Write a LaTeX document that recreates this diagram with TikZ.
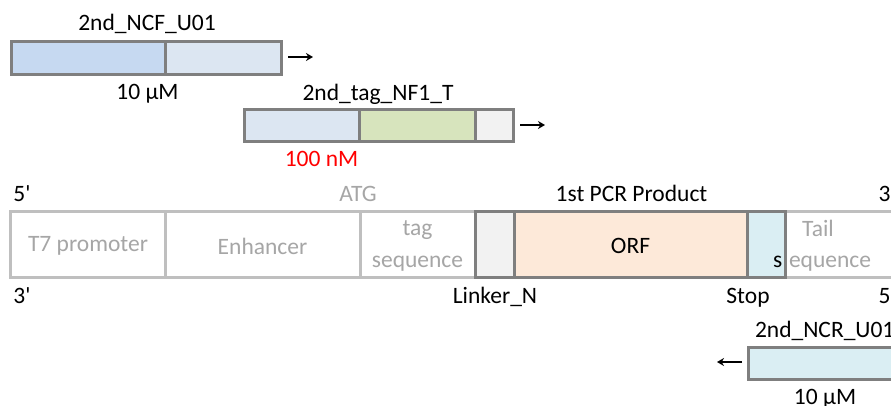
\documentclass[tikz,border=0pt]{standalone}
\usepackage{fontspec}
\setmainfont{Carlito}
\usetikzlibrary{arrows.meta}
\definecolor{dk}{HTML}{7F7F7F}
\definecolor{lt}{HTML}{BFBFBF}
\definecolor{gtext}{HTML}{A6A6A6}
\definecolor{blueA}{HTML}{C6D9F1}
\definecolor{blueB}{HTML}{DCE6F2}
\definecolor{greenA}{HTML}{D7E4BD}
\definecolor{greyA}{HTML}{F2F2F2}
\definecolor{orfc}{HTML}{FDE9D9}
\definecolor{cyanA}{HTML}{DAEEF3}
\newcommand{\prm}{\textquotesingle}
\begin{document}
\begin{tikzpicture}[x=1pt,y=-1pt,
  every node/.style={font=\fontsize{23.5}{31.5}\selectfont},
  seg/.style={draw=dk, line width=3pt, inner sep=0pt, outer sep=0pt, anchor=north west},
  lseg/.style={draw=lt, fill=white, line width=3pt, inner sep=0pt, outer sep=0pt, anchor=north west},
  lbl/.style={anchor=base, inner sep=0pt, outer sep=0pt},
  inlbl/.style={anchor=center, inner sep=0pt, outer sep=0pt, text=gtext, align=center},
  dirarrow/.style={-{Stealth[length=7pt,width=8pt]}, line width=1.8pt}]
\useasboundingbox (0,0) rectangle (891,405);
\clip (0,0) rectangle (891,405);
% primer 1
\node[seg, fill=blueA, minimum width=154pt, minimum height=33pt] (p1a) at (11.5,41.5) {};
\node[seg, fill=blueB, minimum width=116pt, minimum height=33pt] (p1b) at (165.5,41.5) {};
\node[lbl] (p1name) at (147,30) {2nd\_NCF\_U01};
\node[lbl] (p1conc) at (147.5,99) {10 µM};
\coordinate (a1s) at (288,57);
\coordinate (a1e) at (313,57);
\draw[dirarrow] (a1s) -- (a1e);
% primer 2
\node[seg, fill=blueB, minimum width=114.5pt, minimum height=32pt] (p2a) at (244.5,109.5) {};
\node[seg, fill=greenA, minimum width=116.5pt, minimum height=32pt] (p2b) at (359,109.5) {};
\node[seg, fill=greyA, minimum width=38pt, minimum height=32pt] (p2c) at (475.5,109.5) {};
\node[lbl] (p2name) at (378,100) {2nd\_tag\_NF1\_T};
\node[lbl, text=red] (p2conc) at (321.5,166) {100 nM};
\coordinate (a2s) at (520,125);
\coordinate (a2e) at (545,125);
\draw[dirarrow] (a2s) -- (a2e);
% main template
\node[lseg, minimum width=154.5pt, minimum height=66pt] (t7) at (10.5,211.5) {};
\node[lseg, minimum width=195pt, minimum height=66pt] (enh) at (165,211.5) {};
\node[lseg, minimum width=115pt, minimum height=66pt] (tag) at (360,211.5) {};
\node[lseg, minimum width=130pt, minimum height=66pt] (tail) at (785.5,211.5) {};
\node[seg, fill=greyA, minimum width=39pt, minimum height=66pt] (lnk) at (475,211.5) {};
\node[seg, fill=orfc, minimum width=233pt, minimum height=66pt] (orf) at (514,211.5) {};
\node[seg, fill=cyanA, minimum width=38.5pt, minimum height=66pt] (stp) at (747,211.5) {};
\node[inlbl] (t7t) at (88,246) {T7 promoter};
\node[inlbl] (enht) at (262.5,246) {Enhancer};
\node[inlbl] (tagt) at (417.5,246) {tag\\sequence};
\node[inlbl, text=black] (orft) at (630.5,246) {ORF};
\node[lbl, text=gtext] (tailt) at (818,236) {Tail};
\node[lbl, anchor=base west, text=black] (tails) at (773,267.5) {s};
\node[lbl, anchor=base west, text=gtext] (taile) at (789,267.5) {equence};
% strand labels
\node[lbl] (five1) at (22,201) {5\prm};
\node[lbl, text=gtext] (atg) at (358,201) {ATG};
\node[lbl] (pcr) at (631.5,201) {1st PCR Product};
\node[lbl, anchor=base west] (three1) at (878.5,201) {3\prm};
\node[lbl] (three2) at (22,303) {3\prm};
\node[lbl] (lnkl) at (495,303) {Linker\_N};
\node[lbl] (stpl) at (748,303) {Stop};
\node[lbl, anchor=base west] (five2) at (878.5,303) {5\prm};
% reverse primer
\node[seg, fill=cyanA, minimum width=160pt, minimum height=32pt] (p3) at (748.5,347.5) {};
\node[lbl, anchor=base west] (p3name) at (755,337) {2nd\_NCR\_U01};
\node[lbl] (p3conc) at (825,404) {10 µM};
\coordinate (a3s) at (742,362);
\coordinate (a3e) at (717,362);
\draw[dirarrow] (a3s) -- (a3e);
\end{tikzpicture}
\end{document}
